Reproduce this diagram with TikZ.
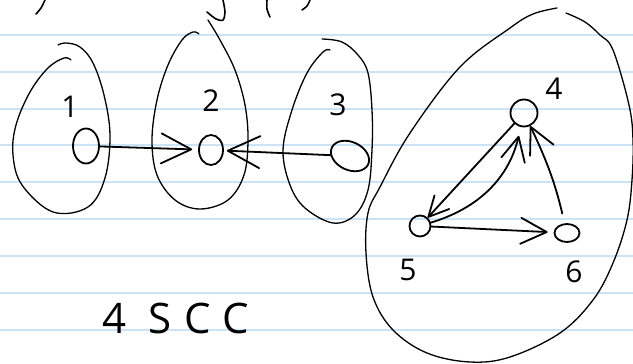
\documentclass[tikz,border=0pt]{standalone}
\usepackage{fontspec}
\setmainfont{Open Sans}
\newfontfamily\widehand[LetterSpace=30]{Open Sans}
\usetikzlibrary{positioning,arrows.meta,shapes.geometric}
\definecolor{ruleblue}{RGB}{200,228,246}
\definecolor{ink}{RGB}{0,0,0}
\tikzset{
  ruled/.style={draw=ruleblue,line width=1.6pt},
  vert/.style={ellipse,draw=ink,line width=1.8pt,minimum width=25pt,minimum height=30pt,inner sep=0pt},
  num/.style={font=\fontsize{30}{30}\selectfont,inner sep=0pt},
  hull/.style={draw=ink,line width=1.3pt,line cap=round,line join=round},
  scrap/.style={draw=ink,line width=1.6pt,line cap=round},
  edge/.style={-{Straight Barb[length=#1,width=#1,round]},draw=ink,line width=1.8pt,line cap=round},
  edge/.default=24pt
}

\begin{document}
\begin{tikzpicture}[x=1pt,y=-1pt]
  \useasboundingbox (0,0) rectangle (633,364);
  \fill[white] (0,0) rectangle (633,364);
  \foreach \y in {35,72,109,145,182,219,256,293,330}
    \draw[ruled] (0,\y) -- (633,\y);

  % bits of the line above, cut off
  \draw[scrap] plot[smooth] coordinates {(45,0) (41,8) (36,14)};
  \draw[scrap] plot[smooth] coordinates {(223,0) (225,12) (223,20) (216,19) (207,12)};
  \draw[scrap] plot[smooth] coordinates {(267,0) (267,9) (270,17)};
  \draw[scrap] plot[smooth] coordinates {(310,0) (307,6) (302,10)};

  % vertices
  \node[vert,minimum width=26pt,minimum height=35pt] (n1) at (86,146) {};
  \node[vert,minimum width=24pt] (n2) at (211,150) {};
  \node[vert,minimum width=40pt,minimum height=28pt,rotate=-25] (n3) at (350,156) {};
  \node[vert,minimum size=27pt] (n4) at (524,113) {};
  \node[vert,minimum size=21pt] (n5) at (420,226) {};
  \node[vert,minimum width=25pt,minimum height=18pt] (n6) at (567,233) {};

  \node[num,above=10pt of n1,xshift=-16pt] (l1) {1};
  \node[num,above=22pt of n2] (l2) {2};
  \node[num] (l3) at (338,105) {3};
  \node[num,above right=3pt and 11pt of n4] (l4) {4};
  \node[num,below=21pt of n5,xshift=-12pt] (l5) {5};
  \node[num,below=18pt of n6,xshift=7pt] (l6) {6};

  % components
  \draw[hull] plot[smooth,tension=0.6] coordinates {(71,60) (64,58) (48,68) (30,92) (16,125) (13,155) (22,185) (53,212) (88,207) (105,178) (110,135) (104,95) (93,63) (80,47) (66,43) (58,45)};
  \draw[hull] plot[smooth,tension=0.6] coordinates {(199,34) (193,32) (182,40) (168,65) (157,100) (152,140) (157,175) (175,200) (200,209) (228,200) (244,175) (248,140) (245,105) (235,70) (220,40) (208,20)};
  \draw[hull] plot[smooth,tension=0.6] coordinates {(330,50) (323,52) (307,73) (292,110) (283,150) (290,185) (305,208) (333,223) (355,215) (368,190) (372,150) (372,110) (368,73) (358,55) (342,42) (322,39)};
  \draw[hull] plot[smooth,tension=0.6] coordinates {(557,8) (533,14) (510,28) (460,67) (410,133) (380,187) (368,213) (366,253) (373,297) (393,330) (427,353) (470,362) (510,357) (560,333) (593,300) (613,263) (627,220) (632,180) (633,140) (629,105) (613,50) (600,35) (585,22) (566,13)};

  % arcs
  \draw[edge=30pt,shorten >=6pt] (n1) -- (n2);
  \draw[edge=32pt,shorten >=3pt] (n3) -- (n2);
  \draw[edge=20pt] (n4) -- (n5);
  \draw[edge=24pt,shorten >=9pt] (n5) to[bend right=30] (n4);
  \draw[edge=26pt,shorten <=10pt] (n6) to[bend right=6] (n4);
  \draw[edge=26pt,shorten >=6pt] (n5) -- (n6);

  \node[font={\widehand\fontsize{42}{42}\selectfont}] (scc) at (176,318) {4\hspace{22pt}SCC};
\end{tikzpicture}
\end{document}
